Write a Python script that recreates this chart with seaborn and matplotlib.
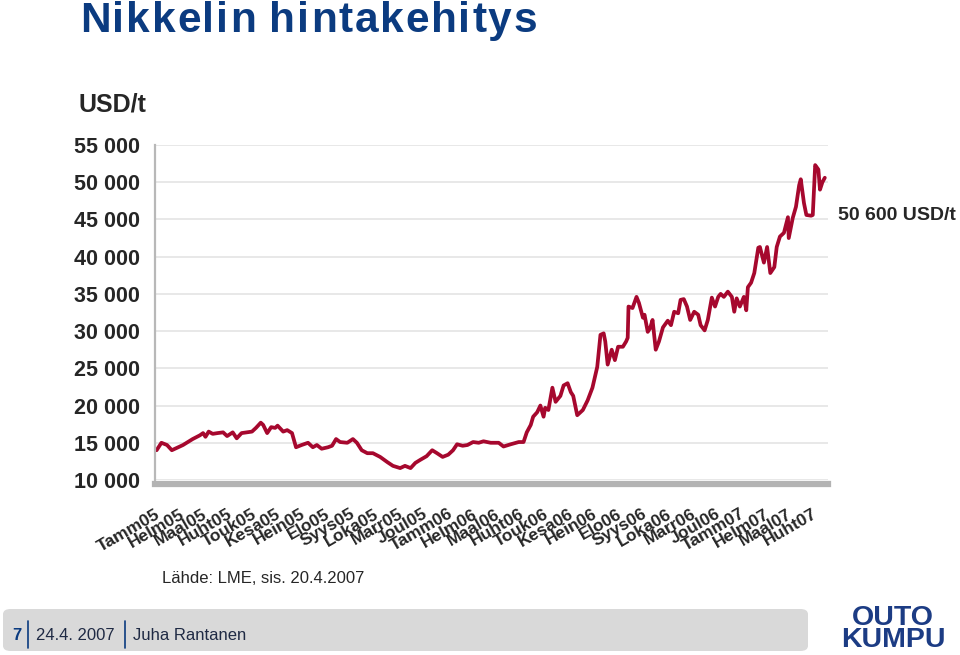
import matplotlib.pyplot as plt
from matplotlib.patches import FancyBboxPatch
from matplotlib.lines import Line2D
import seaborn as sns
import pandas as pd

# Style
sns.set_style("white")
plt.rcParams['font.family'] = ['Liberation Sans', 'DejaVu Sans']

# Nickel price (LME)
START = '2005-01-03'
days = [0, 6, 13, 19, 25, 33, 39, 45, 54, 58, 61, 65, 70, 76, 83, 88, 95, 100,
        106, 113, 119, 124, 130, 133, 138, 143, 148, 151, 158, 163, 169, 174,
        181, 189, 195, 200, 206,
        214, 219, 224, 229, 238, 245, 250, 256, 263, 270, 279, 288, 295, 304,
        310, 317, 323, 329, 337, 344, 350, 357, 364, 370, 375, 382, 388, 395,
        402, 408, 417,
        427, 433, 442, 452, 458, 462, 467, 470, 475, 479, 483, 485, 489, 494,
        498, 504, 508, 513, 517, 520, 525, 532, 538, 544, 550, 554, 558, 560,
        563, 568, 572, 576, 582, 586, 588, 589, 594, 599, 602, 607, 609, 613,
        616, 619,
        623, 627, 632, 638, 642, 646, 651, 654, 658, 662, 666, 671, 676, 679,
        684, 688, 693, 697, 701, 704, 708, 713, 718, 721, 724, 728, 733, 736,
        738, 742, 746, 751, 753, 758, 762, 766, 771, 774, 778, 783, 788, 789,
        794, 798, 802, 804, 808, 811, 817, 819, 822, 826, 828, 831, 834]
price = [14000, 15000, 14700, 14000, 14300, 14700, 15100, 15500, 16000, 16300,
         15800, 16500, 16200, 16300, 16400, 15900, 16400, 15600, 16300, 16400,
         16500, 17000, 17700, 17400, 16300, 17100, 17000, 17300, 16500, 16700,
         16300, 14400, 14700, 15000, 14400, 14700, 14200,
         14400, 14600, 15500, 15100, 15000, 15500, 15000, 14000, 13600, 13600,
         13100, 12400, 11900, 11600, 11900, 11600, 12300, 12700, 13200, 14000,
         13600, 13100, 13400, 14000, 14800, 14600, 14700, 15100, 15000, 15200,
         15000,
         15000, 14500, 14800, 15100, 15100, 16400, 17400, 18500, 19100, 20000,
         18500, 19700, 19400, 22400, 20500, 21300, 22700, 23000, 21800, 21300,
         18700, 19400, 20700, 22400, 25200, 29500, 29700, 28600, 25500, 27500,
         26100, 27900, 27900, 28600, 29100, 33300, 33100, 34600, 33800, 31800,
         32200, 29900, 30400, 31500,
         27500, 28600, 30500, 31400, 30800, 32600, 32400, 34200, 34300, 33300,
         31500, 32600, 32200, 30800, 30100, 31500, 34500, 33300, 34600, 35000,
         34600, 35300, 34600, 32600, 34400, 33300, 34600, 32800, 35900, 36500,
         37800, 41200, 41300, 39200, 41300, 37800, 38600, 41300, 42700, 43200,
         45300, 42500, 45200, 46700, 49600, 50400, 47200, 45600, 45500, 45600,
         52300, 51700, 49000, 50000, 50600]

month_names = ['Tamm', 'Helm', 'Maal', 'Huht', 'Touk', 'Kesa',
               'Hein', 'Elo', 'Syys', 'Loka', 'Marr', 'Joul']
month_ticks = pd.date_range('2005-01-01', '2007-04-01', freq='MS')
month_labels = [f"{month_names[d.month - 1]}{d.year % 100:02d}" for d in month_ticks]
y_ticks = list(range(10000, 55001, 5000))

df = pd.DataFrame({
    'date': pd.Timestamp(START) + pd.to_timedelta(days, unit='D'),
    'price': price,
})

LINE = '#a6082e'
NAVY = '#0b3b80'
GREY = '#b8b8b8'

fig = plt.figure(figsize=(9.6, 6.55), dpi=100)
ax = fig.add_axes([155 / 960, 1 - 480 / 655, 673 / 960, 335 / 655])

sns.lineplot(data=df, x='date', y='price', color=LINE, linewidth=2.7, ax=ax)

ax.set_ylim(10000, 55000)
ax.set_xlim(pd.Timestamp('2005-01-01'), pd.Timestamp('2007-04-21'))
ax.set_xlabel('')
ax.set_ylabel('')

# grid & spines
ax.yaxis.grid(True, color='#e4e4e4', linewidth=1.2)
ax.xaxis.grid(False)
ax.set_axisbelow(True)
for s in ['top', 'right']:
    ax.spines[s].set_visible(False)
ax.spines['left'].set_color(GREY)
ax.spines['left'].set_linewidth(1.6)
ax.spines['bottom'].set_color('#b3b3b3')
ax.spines['bottom'].set_linewidth(4.5)
ax.spines['bottom'].set_position(('outward', 3))

ax.set_yticks(y_ticks)
ax.set_yticklabels([f"{v:,}".replace(',', ' ') for v in y_ticks],
                   fontsize=15.5, fontweight='bold')
ax.tick_params(axis='y', length=7, width=1.2, color=GREY, pad=4)

ax.set_xticks(month_ticks)
ax.set_xticklabels(month_labels, rotation=30, ha='right', va='top',
                   rotation_mode='anchor', fontsize=12.5, fontweight='bold')
ax.tick_params(axis='x', length=0, pad=16)


def spaced_text(x_px, y_px, s, spacing, fontsize, **kw):
    # draw a string letter by letter to get the wide tracking of the title
    renderer = fig.canvas.get_renderer()
    x = x_px
    for ch in s:
        if ch == ' ':
            x += 0.278 * fontsize * 100 / 72 + spacing
            continue
        t = fig.text(x / 960, 1 - y_px / 655, ch, fontsize=fontsize,
                     va='baseline', **kw)
        x += t.get_window_extent(renderer).width + spacing + 1.5


# titles & notes
spaced_text(80, 32, 'Nikkelin hintakehitys', 0.3, 30.5,
            fontweight='bold', color=NAVY)
fig.text(78 / 960, 1 - 112 / 655, 'USD/t', fontsize=18, fontweight='bold',
         va='baseline')
fig.text(838 / 960, 1 - 220 / 655, '50 600 USD/t', fontsize=14,
         fontweight='bold', va='baseline')
fig.text(162 / 960, 1 - 583 / 655, 'Lähde: LME, sis. 20.4.2007', fontsize=12,
         va='baseline')

# footer
fig.patches.append(FancyBboxPatch((3 / 960, 1 - 651 / 655), 805 / 960, 42 / 655,
                                  boxstyle='round,pad=0,rounding_size=0.008',
                                  transform=fig.transFigure, facecolor='#d9d9d9',
                                  edgecolor='none', zorder=0))
fig.text(12 / 960, 1 - 640 / 655, '7', fontsize=12, fontweight='bold',
         color=NAVY, va='baseline')
fig.text(36 / 960, 1 - 640 / 655, '24.4. 2007', fontsize=12, color='#1f2a44',
         va='baseline')
fig.text(133 / 960, 1 - 640 / 655, 'Juha Rantanen', fontsize=12,
         color='#1f2a44', va='baseline')
for xp in [28, 125]:
    fig.add_artist(Line2D([xp / 960, xp / 960], [1 - 648 / 655, 1 - 621 / 655],
                          transform=fig.transFigure, color=NAVY, linewidth=1.2))

# logo
fig.text(893 / 960, 1 - 605 / 655, 'OUTO\nKUMPU', fontsize=20.5,
         fontweight='bold', color='#1c3c84', ha='center', va='top',
         linespacing=0.8)

fig.savefig('out.png', dpi=100)
plt.close(fig)
